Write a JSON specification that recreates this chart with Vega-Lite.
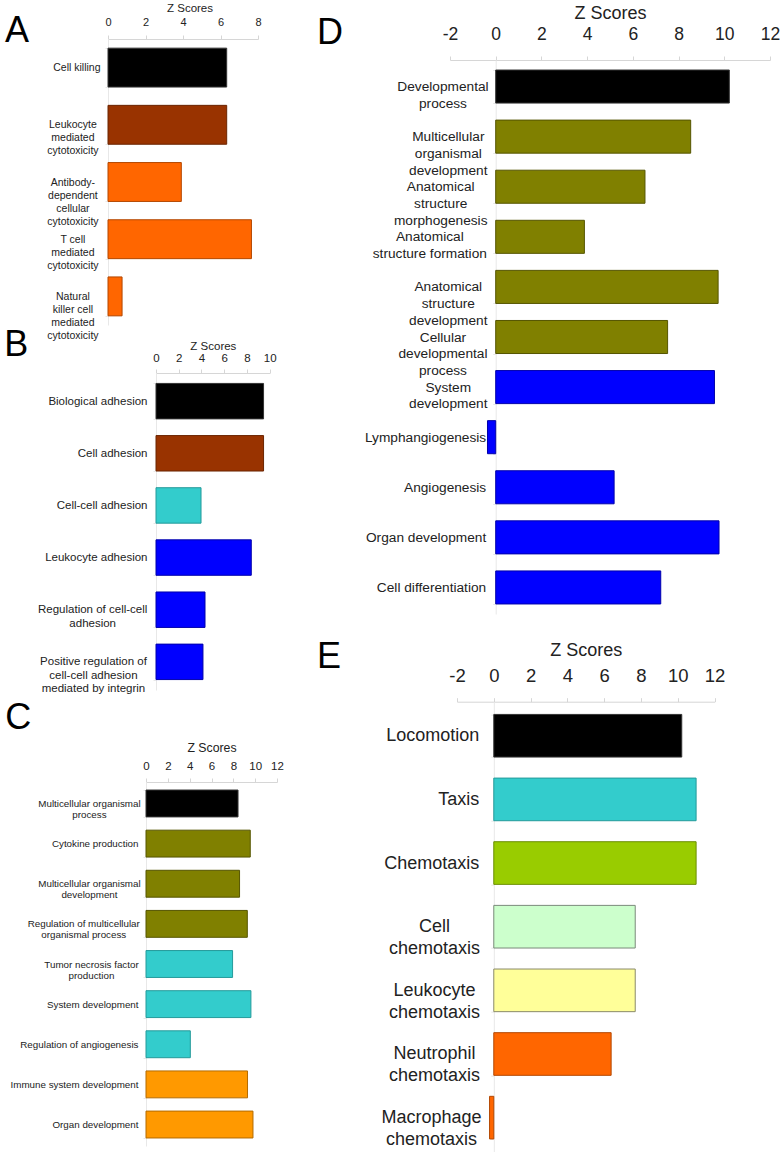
{
  "$schema": "https://vega.github.io/schema/vega-lite/v6.json",
  "padding": {"left": 4, "top": 2, "right": 0, "bottom": 0},
  "config": {
    "font": "Liberation Sans",
    "view": {"stroke": null},
    "axis": {"domainColor": "#d6d6d6", "tickColor": "#d6d6d6", "labelColor": "#222222", "titleColor": "#222222", "titleFontWeight": "normal", "grid": false, "labelOverlap": false, "labelFlush": false},
    "axisY": {"labelExpr": "isValid(datum.value) ? split(datum.value, '\\n') : ''", "labelAlign": {"condition": {"test": "isValid(datum.value) && indexof(datum.value, '\\n') >= 0", "value": "center"}, "value": "right"}},
    "axisX": {"labelExpr": "'' + datum.value"},
    "title": {"fontSize": 36, "fontWeight": "normal", "color": "#000000", "anchor": "start", "frame": "group", "offset": 0, "baseline": "alphabetic"}
  },
  "resolve": {"scale": {"fill": "independent", "stroke": "independent", "x": "independent", "y": "independent"}},
  "bounds": "flush",
  "spacing": 342,
  "hconcat": [
    {
      "bounds": "flush",
      "spacing": 48,
      "resolve": {"scale": {"fill": "independent", "stroke": "independent", "x": "independent", "y": "independent"}},
      "vconcat": [
        {
          "width": 150, "height": 286,
          "title": {"text": "A", "dx": -103, "dy": 52},
          "data": {"values": [
            {"term": "Cell  killing", "z": 6.33, "tier": "parent"},
            {"term": "Leukocyte\nmediated\ncytotoxicity", "z": 6.33, "tier": "level 1"},
            {"term": "Antibody-\ndependent\ncellular\ncytotoxicity", "z": 3.91, "tier": "level 2"},
            {"term": "T cell\nmediated\ncytotoxicity", "z": 7.65, "tier": "level 2"},
            {"term": "Natural\nkiller cell\nmediated\ncytotoxicity", "z": 0.75, "tier": "level 2"}
          ]},
          "mark": {"type": "bar", "strokeWidth": 1},
          "encoding": {
            "y": {"field": "term", "type": "nominal", "sort": null, "scale": {"paddingInner": 0.32, "paddingOuter": 0.16},
              "axis": {"title": null, "labelFontSize": 10.5, "labelLineHeight": 13, "tickBand": "extent", "tickSize": 3, "domainColor": "#e8e8e8", "tickColor": "#e8e8e8",
                "labelPadding": {"expr": "isValid(datum.value) && indexof(datum.value, '\\n') >= 0 ? 5 + 5.25*max((0.556*length((split(datum.value,'\\n')[0] || '')) - 0.334*length(replace((split(datum.value,'\\n')[0] || ''), regexp('[^ilj]','g'), '')) - 0.25*length(replace((split(datum.value,'\\n')[0] || ''), regexp('[^tfr -]','g'), ''))), (0.556*length((split(datum.value,'\\n')[1] || '')) - 0.334*length(replace((split(datum.value,'\\n')[1] || ''), regexp('[^ilj]','g'), '')) - 0.25*length(replace((split(datum.value,'\\n')[1] || ''), regexp('[^tfr -]','g'), ''))), (0.556*length((split(datum.value,'\\n')[2] || '')) - 0.334*length(replace((split(datum.value,'\\n')[2] || ''), regexp('[^ilj]','g'), '')) - 0.25*length(replace((split(datum.value,'\\n')[2] || ''), regexp('[^tfr -]','g'), ''))), (0.556*length((split(datum.value,'\\n')[3] || '')) - 0.334*length(replace((split(datum.value,'\\n')[3] || ''), regexp('[^ilj]','g'), '')) - 0.25*length(replace((split(datum.value,'\\n')[3] || ''), regexp('[^tfr -]','g'), '')))) : 5"}}},
            "x": {"field": "z", "type": "quantitative", "scale": {"domain": [0, 8], "nice": false},
              "axis": {"orient": "top", "values": [0, 2, 4, 6, 8], "title": "Z Scores", "titleX": 81.5, "labelFontSize": 11, "titleFontSize": 11.5, "tickSize": 4, "labelPadding": 8, "titlePadding": 3}},
            "fill": {"field": "tier", "type": "nominal", "legend": null, "scale": {"domain": ["parent", "level 1", "level 2"], "range": ["#000000", "#993300", "#ff6600"]}},
            "stroke": {"field": "tier", "type": "nominal", "legend": null, "scale": {"domain": ["parent", "level 1", "level 2"], "range": ["#333333", "#6b2400", "#b34700"]}}
          }
        },
        {
          "bounds": "flush",
          "spacing": 409,
          "resolve": {"scale": {"fill": "independent", "stroke": "independent", "x": "independent", "y": "independent"}},
          "vconcat": [
            {
              "bounds": "flush",
              "spacing": 0,
              "resolve": {"scale": {"fill": "independent", "stroke": "independent", "x": "independent", "y": "independent"}},
              "hconcat": [
                {"width": 47.7, "height": 1, "data": {"values": []}, "mark": "point"},
                {
                  "width": 113.7, "height": 317,
                  "title": {"text": "B", "dx": -151.7, "dy": 28},
                  "data": {"values": [
                    {"term": "Biological adhesion", "z": 9.46, "tier": "parent"},
                    {"term": "Cell adhesion", "z": 9.46, "tier": "level 1"},
                    {"term": "Cell-cell adhesion", "z": 3.96, "tier": "level 2"},
                    {"term": "Leukocyte adhesion", "z": 8.38, "tier": "level 3"},
                    {"term": "Regulation of cell-cell\nadhesion", "z": 4.31, "tier": "level 3"},
                    {"term": "Positive regulation of\ncell-cell adhesion\nmediated by integrin", "z": 4.13, "tier": "level 3"}
                  ]},
                  "mark": {"type": "bar", "strokeWidth": 1},
                  "encoding": {
                    "y": {"field": "term", "type": "nominal", "sort": null, "scale": {"paddingInner": 0.32, "paddingOuter": 0.2},
                      "axis": {"title": null, "labelFontSize": 11.5, "labelLineHeight": 13.5, "tickBand": "extent", "tickSize": 3, "domainColor": "#e8e8e8", "tickColor": "#e8e8e8",
                        "labelPadding": {"expr": "isValid(datum.value) && indexof(datum.value, '\\n') >= 0 ? 6 + 5.75*max((0.556*length((split(datum.value,'\\n')[0] || '')) - 0.334*length(replace((split(datum.value,'\\n')[0] || ''), regexp('[^ilj]','g'), '')) - 0.25*length(replace((split(datum.value,'\\n')[0] || ''), regexp('[^tfr -]','g'), ''))), (0.556*length((split(datum.value,'\\n')[1] || '')) - 0.334*length(replace((split(datum.value,'\\n')[1] || ''), regexp('[^ilj]','g'), '')) - 0.25*length(replace((split(datum.value,'\\n')[1] || ''), regexp('[^tfr -]','g'), ''))), (0.556*length((split(datum.value,'\\n')[2] || '')) - 0.334*length(replace((split(datum.value,'\\n')[2] || ''), regexp('[^ilj]','g'), '')) - 0.25*length(replace((split(datum.value,'\\n')[2] || ''), regexp('[^tfr -]','g'), '')))) : 6"}}},
                    "x": {"field": "z", "type": "quantitative", "scale": {"domain": [0, 10], "nice": false},
                      "axis": {"orient": "top", "values": [0, 2, 4, 6, 8, 10], "title": "Z Scores", "labelFontSize": 11.5, "titleFontSize": 11.5, "tickSize": 4, "labelPadding": 6, "titlePadding": 1}},
                    "fill": {"field": "tier", "type": "nominal", "legend": null, "scale": {"domain": ["parent", "level 1", "level 2", "level 3"], "range": ["#000000", "#993300", "#33cccc", "#0000ff"]}},
                    "stroke": {"field": "tier", "type": "nominal", "legend": null, "scale": {"domain": ["parent", "level 1", "level 2", "level 3"], "range": ["#333333", "#6b2400", "#249a9a", "#0000aa"]}}
                  }
                }
              ]
            },
            {
              "bounds": "flush",
              "spacing": 0,
              "resolve": {"scale": {"fill": "independent", "stroke": "independent", "x": "independent", "y": "independent"}},
              "hconcat": [
                {"width": 37.7, "height": 1, "data": {"values": []}, "mark": "point"},
                {
                  "width": 131, "height": 364,
                  "title": {"text": "C", "dx": -140.7, "dy": 0},
                  "data": {"values": [
                    {"term": "Multicellular organismal\nprocess", "z": 8.43, "tier": "parent"},
                    {"term": "Cytokine production", "z": 9.55, "tier": "level 1"},
                    {"term": "Multicellular organismal\ndevelopment", "z": 8.57, "tier": "level 1"},
                    {"term": "Regulation of multicellular\norganismal process", "z": 9.28, "tier": "level 1"},
                    {"term": "Tumor necrosis factor\nproduction", "z": 7.93, "tier": "level 2"},
                    {"term": "System development", "z": 9.61, "tier": "level 2"},
                    {"term": "Regulation of angiogenesis", "z": 4.06, "tier": "level 2"},
                    {"term": "Immune system development", "z": 9.30, "tier": "level 3"},
                    {"term": "Organ development", "z": 9.80, "tier": "level 3"}
                  ]},
                  "mark": {"type": "bar", "strokeWidth": 1},
                  "encoding": {
                    "y": {"field": "term", "type": "nominal", "sort": null, "scale": {"paddingInner": 0.33, "paddingOuter": 0.2},
                      "axis": {"title": null, "labelFontSize": 9.8, "labelLineHeight": 11, "tickBand": "extent", "tickSize": 3, "domainColor": "#e8e8e8", "tickColor": "#e8e8e8",
                        "labelPadding": {"expr": "isValid(datum.value) && indexof(datum.value, '\\n') >= 0 ? 5 + 4.9*max((0.556*length((split(datum.value,'\\n')[0] || '')) - 0.334*length(replace((split(datum.value,'\\n')[0] || ''), regexp('[^ilj]','g'), '')) - 0.25*length(replace((split(datum.value,'\\n')[0] || ''), regexp('[^tfr -]','g'), ''))), (0.556*length((split(datum.value,'\\n')[1] || '')) - 0.334*length(replace((split(datum.value,'\\n')[1] || ''), regexp('[^ilj]','g'), '')) - 0.25*length(replace((split(datum.value,'\\n')[1] || ''), regexp('[^tfr -]','g'), '')))) : 5"}}},
                    "x": {"field": "z", "type": "quantitative", "scale": {"domain": [0, 12], "nice": false},
                      "axis": {"orient": "top", "values": [0, 2, 4, 6, 8, 10, 12], "title": "Z Scores", "labelFontSize": 11.5, "titleFontSize": 12.3, "tickSize": 4, "labelPadding": 7, "titlePadding": 6}},
                    "fill": {"field": "tier", "type": "nominal", "legend": null, "scale": {"domain": ["parent", "level 1", "level 2", "level 3"], "range": ["#000000", "#808000", "#33cccc", "#ff9900"]}},
                    "stroke": {"field": "tier", "type": "nominal", "legend": null, "scale": {"domain": ["parent", "level 1", "level 2", "level 3"], "range": ["#333333", "#555500", "#249a9a", "#b36b00"]}}
                  }
                }
              ]
            }
          ]
        }
      ]
    },
    {
      "bounds": "flush",
      "spacing": 20,
      "resolve": {"scale": {"fill": "independent", "stroke": "independent", "x": "independent", "y": "independent"}},
      "vconcat": [
        {"width": 1, "height": 1, "data": {"values": []}, "mark": "point"},
        {
          "bounds": "flush",
          "spacing": 87.7,
          "resolve": {"scale": {"fill": "independent", "stroke": "independent", "x": "independent", "y": "independent"}},
          "vconcat": [
            {
              "width": 320, "height": 554,
              "title": {"text": "D", "dx": -133, "dy": 52},
              "data": {"values": [
                {"term": "Developmental\nprocess", "z": 10.22, "tier": "parent"},
                {"term": "Multicellular\norganismal\ndevelopment", "z": 8.53, "tier": "level 1"},
                {"term": "Anatomical\nstructure\nmorphogenesis", "z": 6.53, "tier": "level 1"},
                {"term": "Anatomical\nstructure formation", "z": 3.88, "tier": "level 1"},
                {"term": "Anatomical\nstructure\ndevelopment", "z": 9.73, "tier": "level 1"},
                {"term": "Cellular\ndevelopmental\nprocess", "z": 7.52, "tier": "level 1"},
                {"term": "System\ndevelopment", "z": 9.57, "tier": "level 2"},
                {"term": "Lymphangiogenesis", "z": -0.36, "tier": "level 2"},
                {"term": "Angiogenesis", "z": 5.18, "tier": "level 2"},
                {"term": "Organ development", "z": 9.77, "tier": "level 2"},
                {"term": "Cell differentiation", "z": 7.22, "tier": "level 2"}
              ]},
              "mark": {"type": "bar", "strokeWidth": 1},
              "encoding": {
                "y": {"field": "term", "type": "nominal", "sort": null, "scale": {"paddingInner": 0.34, "paddingOuter": 0.2},
                  "axis": {"title": null, "offset": -45.7, "labelFontSize": 13.7, "labelLineHeight": 16.7, "tickBand": "extent", "tickSize": 3, "domainColor": "#e8e8e8", "tickColor": "#e8e8e8",
                    "labelPadding": {"expr": "isValid(datum.value) && indexof(datum.value, '\\n') >= 0 ? 7 + 6.85*max((0.556*length((split(datum.value,'\\n')[0] || '')) - 0.334*length(replace((split(datum.value,'\\n')[0] || ''), regexp('[^ilj]','g'), '')) - 0.25*length(replace((split(datum.value,'\\n')[0] || ''), regexp('[^tfr -]','g'), ''))), (0.556*length((split(datum.value,'\\n')[1] || '')) - 0.334*length(replace((split(datum.value,'\\n')[1] || ''), regexp('[^ilj]','g'), '')) - 0.25*length(replace((split(datum.value,'\\n')[1] || ''), regexp('[^tfr -]','g'), ''))), (0.556*length((split(datum.value,'\\n')[2] || '')) - 0.334*length(replace((split(datum.value,'\\n')[2] || ''), regexp('[^ilj]','g'), '')) - 0.25*length(replace((split(datum.value,'\\n')[2] || ''), regexp('[^tfr -]','g'), '')))) : 7"}}},
                "x": {"field": "z", "type": "quantitative", "scale": {"domain": [-2, 12], "nice": false, "zero": false},
                  "axis": {"orient": "top", "values": [-2, 0, 2, 4, 6, 8, 10, 12], "title": "Z Scores", "labelFontSize": 17.5, "titleFontSize": 18, "tickSize": 4, "labelPadding": 13, "titlePadding": 3}},
                "fill": {"field": "tier", "type": "nominal", "legend": null, "scale": {"domain": ["parent", "level 1", "level 2"], "range": ["#000000", "#808000", "#0000ff"]}},
                "stroke": {"field": "tier", "type": "nominal", "legend": null, "scale": {"domain": ["parent", "level 1", "level 2"], "range": ["#333333", "#555500", "#0000aa"]}}
              }
            },
            {
              "bounds": "flush",
              "spacing": 0,
              "resolve": {"scale": {"fill": "independent", "stroke": "independent", "x": "independent", "y": "independent"}},
              "hconcat": [
                {"width": 6.7, "height": 1, "data": {"values": []}, "mark": "point"},
                {
                  "width": 257.5, "height": 450,
                  "title": {"text": "E", "dx": -140, "dy": 39.3},
                  "data": {"values": [
                    {"term": "Locomotion", "z": 10.22, "tier": "parent"},
                    {"term": "Taxis", "z": 11.0, "tier": "level 1"},
                    {"term": "Chemotaxis", "z": 11.0, "tier": "level 2"},
                    {"term": "Cell\nchemotaxis", "z": 7.69, "tier": "level 3"},
                    {"term": "Leukocyte\nchemotaxis", "z": 7.69, "tier": "level 4"},
                    {"term": "Neutrophil\nchemotaxis", "z": 6.38, "tier": "level 5"},
                    {"term": "Macrophage\nchemotaxis", "z": -0.23, "tier": "level 5"}
                  ]},
                  "mark": {"type": "bar", "strokeWidth": 1},
                  "encoding": {
                    "y": {"field": "term", "type": "nominal", "sort": null, "scale": {"paddingInner": 0.33, "paddingOuter": 0.2},
                      "axis": {"title": null, "offset": -36.8, "labelFontSize": 18, "labelLineHeight": 21.7, "tickBand": "extent", "tickSize": 3, "domainColor": "#e8e8e8", "tickColor": "#e8e8e8",
                        "labelPadding": {"expr": "isValid(datum.value) && indexof(datum.value, '\\n') >= 0 ? 12 + 9*max((0.556*length((split(datum.value,'\\n')[0] || '')) - 0.334*length(replace((split(datum.value,'\\n')[0] || ''), regexp('[^ilj]','g'), '')) - 0.25*length(replace((split(datum.value,'\\n')[0] || ''), regexp('[^tfr -]','g'), ''))), (0.556*length((split(datum.value,'\\n')[1] || '')) - 0.334*length(replace((split(datum.value,'\\n')[1] || ''), regexp('[^ilj]','g'), '')) - 0.25*length(replace((split(datum.value,'\\n')[1] || ''), regexp('[^tfr -]','g'), '')))) : 12"}}},
                    "x": {"field": "z", "type": "quantitative", "scale": {"domain": [-2, 12], "nice": false, "zero": false},
                      "axis": {"orient": "top", "values": [-2, 0, 2, 4, 6, 8, 10, 12], "title": "Z Scores", "labelFontSize": 18.5, "titleFontSize": 18, "tickSize": 4, "labelPadding": 12.7, "titlePadding": 7}},
                    "fill": {"field": "tier", "type": "nominal", "legend": null, "scale": {"domain": ["parent", "level 1", "level 2", "level 3", "level 4", "level 5"], "range": ["#000000", "#33cccc", "#99cc00", "#ccffcc", "#ffff99", "#ff6600"]}},
                    "stroke": {"field": "tier", "type": "nominal", "legend": null, "scale": {"domain": ["parent", "level 1", "level 2", "level 3", "level 4", "level 5"], "range": ["#333333", "#249a9a", "#6b8f00", "#7a8a7a", "#8a8a6a", "#b34700"]}}
                  }
                }
              ]
            }
          ]
        }
      ]
    }
  ]
}
